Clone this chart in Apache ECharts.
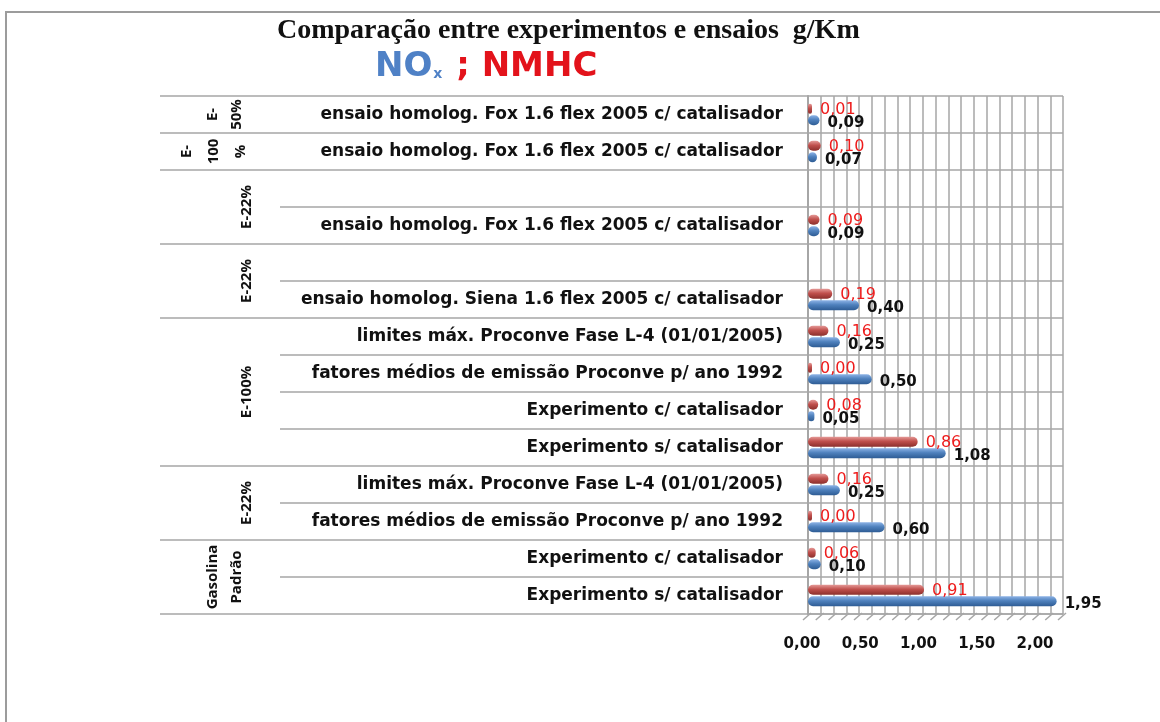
<!DOCTYPE html>
<html>
<head>
<meta charset="utf-8">
<title>Comparação entre experimentos e ensaios g/Km</title>
<script src="https://cdn.jsdelivr.net/npm/echarts@6/dist/echarts.min.js"></script>
<style>
  html, body { margin: 0; padding: 0; background: #ffffff; }
  #chart { width: 1160px; height: 722px; }
</style>
</head>
<body>
<div id="chart"></div>
<script>
// Rows, top to bottom
const rowLabels = [
  'ensaio homolog. Fox 1.6 flex 2005 c/ catalisador',
  'ensaio homolog. Fox 1.6 flex 2005 c/ catalisador',
  '',
  'ensaio homolog. Fox 1.6 flex 2005 c/ catalisador',
  '',
  'ensaio homolog. Siena 1.6 flex 2005 c/ catalisador',
  'limites máx. Proconve Fase L-4 (01/01/2005)',
  'fatores médios de emissão Proconve p/ ano 1992',
  'Experimento c/ catalisador',
  'Experimento s/ catalisador',
  'limites máx. Proconve Fase L-4 (01/01/2005)',
  'fatores médios de emissão Proconve p/ ano 1992',
  'Experimento c/ catalisador',
  'Experimento s/ catalisador'
];

// Fuel groups and how many rows each one spans
const groupLabels = ['E-\n50%', 'E-\n100\n%', 'E-22%', 'E-22%', 'E-100%', 'E-22%', 'Gasolina\nPadrão'];
const groupSizes = [1, 1, 2, 2, 4, 2, 2];

// Emissions in g/Km (null = no measurement)
const noxValues  = [0.09, 0.07, null, 0.09, null, 0.40, 0.25, 0.50, 0.05, 1.08, 0.25, 0.60, 0.10, 1.95];
const nmhcValues = [0.01, 0.10, null, 0.09, null, 0.19, 0.16, 0.00, 0.08, 0.86, 0.16, 0.00, 0.06, 0.91];

// Value axis
const axisMin = 0;
const axisMax = 2;
const axisStep = 0.5;
const minorStep = 0.1;

const fmt = v => v.toFixed(2).replace('.', ',');

const chart = echarts.init(document.getElementById('chart'), null, { renderer: 'canvas' });

const gridLine = '#a6a6a6';

function cylinder(light, mid, dark) {
  return new echarts.graphic.LinearGradient(0, 0, 0, 1, [
    { offset: 0, color: light },
    { offset: 0.45, color: mid },
    { offset: 1, color: dark }
  ]);
}

chart.setOption({
  backgroundColor: '#ffffff',
  animation: false,
  title: [
    {
      text: 'Comparação entre experimentos e ensaios  g/Km',
      left: 272, top: 12,
      textStyle: { fontFamily: 'Liberation Serif', fontWeight: 'bold', fontSize: 28, color: '#111111' }
    },
    {
      text: '{n|NO}{x|x}{r| ; NMHC}',
      left: 370, top: 45,
      textStyle: {
        rich: {
          n: { fontFamily: 'DejaVu Sans', fontWeight: 'bold', fontSize: 34, color: '#4f81c6' },
          x: { fontFamily: 'DejaVu Sans', fontWeight: 'bold', fontSize: 14, color: '#4f81c6', padding: [14, 2, 0, 1] },
          r: { fontFamily: 'DejaVu Sans', fontWeight: 'bold', fontSize: 34, color: '#e3131b' }
        }
      }
    }
  ],
  grid: [
    { left: 808, right: 97, top: 96, bottom: 108, containLabel: false },
    { left: 802, right: 125, top: 96, bottom: 108, containLabel: false }
  ],
  xAxis: [
    {
      gridIndex: 0, type: 'value', min: axisMin, max: axisMax, interval: axisStep,
      axisLine: { show: true, lineStyle: { color: gridLine, width: 1.5 } },
      axisTick: { show: false },
      axisLabel: { show: false },
      splitLine: { show: true, lineStyle: { color: gridLine, width: 1.5 } },
      minorTick: { show: false, splitNumber: 5 },
      minorSplitLine: { show: true, lineStyle: { color: gridLine, width: 1.5 } }
    },
    {
      gridIndex: 1, type: 'value', min: axisMin, max: axisMax, interval: axisStep,
      axisLine: { show: false }, axisTick: { show: false }, splitLine: { show: false },
      axisLabel: {
        margin: 23, color: '#111111', fontFamily: 'DejaVu Sans', fontWeight: 'bold', fontSize: 15,
        formatter: v => fmt(v)
      }
    }
  ],
  yAxis: [
    {
      gridIndex: 0, type: 'category', inverse: true, data: rowLabels,
      axisLine: { show: true, lineStyle: { color: gridLine, width: 2 } },
      axisTick: { show: false },
      axisLabel: {
        margin: 25, color: '#111111', fontFamily: 'DejaVu Sans', fontWeight: 'bold', fontSize: 17
      },
      splitLine: { show: true, lineStyle: { color: gridLine, width: 1.5 } }
    },
    { gridIndex: 1, type: 'value', show: false }
  ],
  series: [
    {
      name: 'NMHC', type: 'bar', xAxisIndex: 0, yAxisIndex: 0,
      data: nmhcValues, barWidth: 10, barGap: '15%', barMinHeight: 4,
      itemStyle: { color: cylinder('#e59a98', '#c0504d', '#8c2f2c'), borderRadius: 5 },
      label: {
        show: true, position: 'right', distance: 8, offset: [0, 1],
        color: '#ee1c1c', fontFamily: 'DejaVu Sans', fontSize: 16,
        formatter: p => fmt(p.value)
      }
    },
    {
      name: 'NOx', type: 'bar', xAxisIndex: 0, yAxisIndex: 0,
      data: noxValues, barWidth: 10, barMinHeight: 4,
      itemStyle: { color: cylinder('#8db3e6', '#4f81bd', '#2e5c94'), borderRadius: 5 },
      label: {
        show: true, position: 'right', distance: 8, offset: [0, 3],
        color: '#111111', fontFamily: 'DejaVu Sans', fontWeight: 'bold', fontSize: 15,
        formatter: p => fmt(p.value)
      }
    }
  ]
});

// Row separators, rotated group labels, floor hatching and outer frame
function drawDecorations() {
  const centers = rowLabels.map((_, i) => chart.convertToPixel({ yAxisIndex: 0 }, i));
  const step = centers[1] - centers[0];
  const bounds = [];
  for (let k = 0; k <= rowLabels.length; k++) bounds.push(centers[0] - step / 2 + k * step);
  const plotLeft = chart.convertToPixel({ xAxisIndex: 0 }, axisMin);
  const floorY = bounds[bounds.length - 1];

  const groupEdges = new Set([0]);
  let acc = 0;
  groupSizes.forEach(s => { acc += s; groupEdges.add(acc); });

  const elements = [];
  bounds.forEach((y, k) => {
    const full = groupEdges.has(k);
    elements.push({
      type: 'line', silent: true,
      shape: { x1: full ? 160 : 280, y1: y, x2: plotLeft, y2: y },
      style: { stroke: gridLine, lineWidth: 1.5 }
    });
  });

  let start = 0;
  groupLabels.forEach((label, g) => {
    const yMid = (bounds[start] + bounds[start + groupSizes[g]]) / 2;
    const lines = label.split('\n').length;
    const xMid = lines === 1 ? 247 : (lines === 2 ? 225 : 214);
    elements.push({
      type: 'text', silent: true,
      x: xMid, y: yMid, rotation: Math.PI / 2,
      style: {
        text: label, align: 'center', verticalAlign: 'middle',
        fontFamily: 'Open Sans', fontWeight: 'bold', fontSize: 15,
        lineHeight: lines === 3 ? 27 : 24, fill: '#111111'
      }
    });
    start += groupSizes[g];
  });

  // diagonal hatching of the chart floor, one stroke per minor step
  const nSteps = Math.round((axisMax - axisMin) / minorStep);
  for (let i = 0; i <= nSteps; i++) {
    const x = chart.convertToPixel({ xAxisIndex: 0 }, axisMin + i * minorStep);
    elements.push({
      type: 'line', silent: true,
      shape: { x1: x - 5, y1: floorY + 6, x2: x + 3, y2: floorY - 1 },
      style: { stroke: gridLine, lineWidth: 1.5 }
    });
  }

  // outer frame (top and left edges visible)
  elements.push({
    type: 'rect', silent: true, z: -1,
    shape: { x: 6, y: 12, width: 1200, height: 760 },
    style: { fill: 'none', stroke: '#9c9c9c', lineWidth: 2 }
  });

  chart.setOption({ graphic: elements });
}
drawDecorations();
</script>
</body>
</html>
